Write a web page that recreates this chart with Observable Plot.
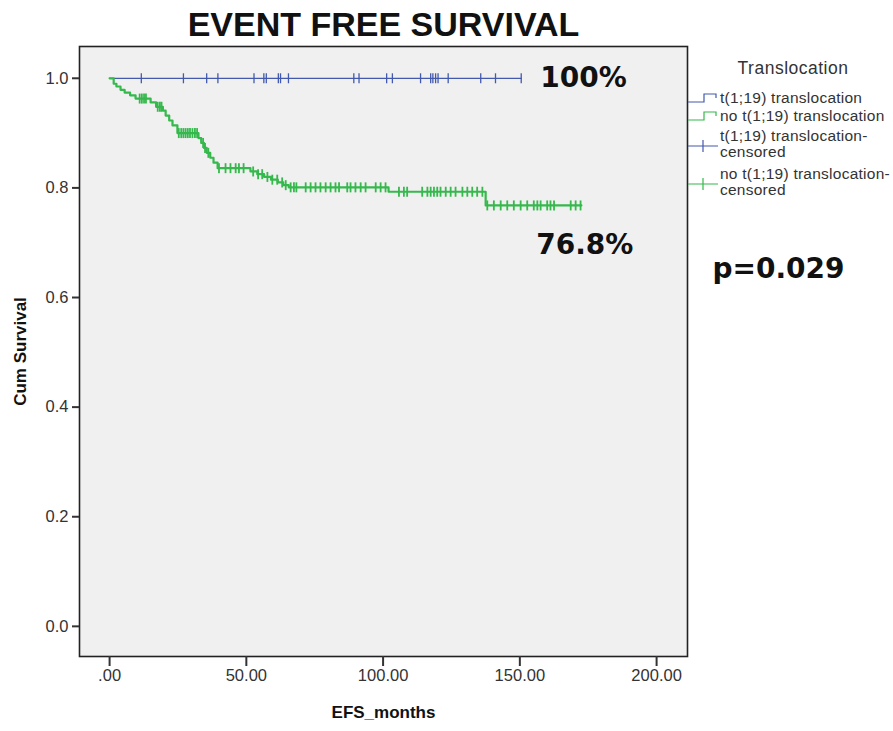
<!DOCTYPE html>
<html>
<head>
<meta charset="utf-8">
<script src="https://cdn.jsdelivr.net/npm/d3@7"></script>
<script src="https://cdn.jsdelivr.net/npm/@observablehq/plot@0.6"></script>
<style>
  html, body { margin: 0; padding: 0; background: white; }
  #chart { width: 893px; height: 731px; }
</style>
</head>
<body>
<div id="chart"></div>
<script>
// ---- data ----
const title = "EVENT FREE SURVIVAL";
const xLabel = "EFS_months";
const yLabel = "Cum Survival";
const xTicks = [0, 50, 100, 150, 200];
const yTicks = [0, 0.2, 0.4, 0.6, 0.8, 1.0];
const legendTitle = "Translocation";
const seriesNames = ["t(1;19) translocation", "no t(1;19) translocation"];

// t(1;19) translocation: no events
const blueTime = [0, 150.5];
const blueSurv = [1.0, 1.0];
const blueCensor = [11.6, 27.0, 35.5, 39.6, 52.8, 56.4, 57.3, 61.7, 62.5, 65.4, 89.3, 91.2, 101.3, 103.4,
  113.7, 117.4, 118.2, 119.2, 120.1, 123.8, 135.7, 141.1, 150.5];

// no t(1;19) translocation
const greenTime = [0, 1.5, 2.5, 4, 5.5, 7.5, 9.5, 15, 17, 19.5, 20.5, 21.8, 23, 24.8, 32.5, 33.5, 34.5,
  35.5, 36.8, 38, 39.5, 51.5, 54, 56.5, 59, 61.5, 63.5, 65.5, 102, 137.5, 172.5];
const greenSurv = [1.0, 0.99, 0.985, 0.979, 0.974, 0.969, 0.963, 0.956, 0.948, 0.941, 0.932, 0.923, 0.914,
  0.900, 0.891, 0.882, 0.873, 0.864, 0.855, 0.846, 0.836, 0.830, 0.825, 0.820, 0.815, 0.810, 0.805, 0.801,
  0.793, 0.768, 0.768];
const greenCensor = [11.0, 11.8, 12.6, 13.3, 17.6, 18.4, 19.0, 25.3, 26.2, 27.0, 27.8, 28.6, 29.4, 30.3,
  31.2, 32.0, 34.2, 34.9, 36.1, 40.0, 42.4, 44.2, 46.1, 47.3, 49.0, 52.5, 54.3, 55.8, 57.7, 59.5, 61.3,
  63.1, 64.4, 66.2, 67.4, 68.3, 71.7, 73.5, 75.3, 77.1, 79.0, 80.8, 82.6, 83.9, 86.9, 88.1, 89.9, 91.8,
  93.6, 97.3, 99.1, 100.9, 105.8, 107.6, 108.8, 114.3, 116.2, 117.4, 118.6, 119.8, 121.0, 122.9, 124.7,
  126.5, 129.0, 130.8, 132.6, 134.4, 136.3, 138.1, 140.5, 143.0, 145.4, 147.8, 150.3, 152.7, 155.1,
  156.4, 157.6, 160.0, 161.2, 162.5, 168.6, 170.4, 172.2];

const annotations = ["100%", "76.8%"];
const pValue = "p=0.029";

// ---- derived tables ----
const BLUE = "#4259ad", GREEN = "#35b84c";
const blueLine = blueTime.map((t, i) => ({t, s: blueSurv[i]}));
const greenLine = greenTime.map((t, i) => ({t, s: greenSurv[i]}));
function survAt(times, surv, t) {
  const i = d3.bisectRight(times, t) - 1;
  return surv[Math.max(0, i)];
}
const blueCens = blueCensor.map(t => ({t, s: survAt(blueTime, blueSurv, t)}));
const greenCens = greenCensor.map(t => ({t, s: survAt(greenTime, greenSurv, t)}));

const vtick = { draw(ctx, size) { ctx.moveTo(0, -5); ctx.lineTo(0, 5); } };

const plot = Plot.plot({
  width: 893,
  height: 731,
  marginLeft: 79,
  marginRight: 206,
  marginTop: 46,
  marginBottom: 75,
  style: { fontFamily: "'Liberation Sans', Arial, sans-serif", fontSize: "16px", color: "#333", background: "white" },
  x: { domain: [-11, 211.3] },
  y: { domain: [-0.055, 1.058] },
  marks: [
    Plot.frame({ fill: "#f0f0f0", stroke: null }),
    Plot.line(blueLine, { x: "t", y: "s", curve: "step-after", stroke: BLUE, strokeWidth: 1.3 }),
    Plot.line(greenLine, { x: "t", y: "s", curve: "step-after", stroke: GREEN, strokeWidth: 2.2 }),
    Plot.dot(blueCens, { x: "t", y: "s", symbol: vtick, stroke: BLUE, strokeWidth: 1.3, fill: "none" }),
    Plot.dot(greenCens, { x: "t", y: "s", symbol: vtick, stroke: GREEN, strokeWidth: 1.8, fill: "none" }),
    Plot.frame({ stroke: "#222", strokeWidth: 1.6 }),
    Plot.axisX({ ticks: xTicks, tickSize: 10, tickPadding: 3, strokeWidth: 2, stroke: "#333",
      tickFormat: d => d === 0 ? ".00" : d.toFixed(2), label: null, fontSize: 16.5 }),
    Plot.axisY({ ticks: yTicks, tickSize: 7, tickPadding: 4, strokeWidth: 2, stroke: "#333",
      tickFormat: d => d.toFixed(1), label: null, fontSize: 16.5 }),
    // annotations
    Plot.text([annotations[0]], { x: blueTime[blueTime.length - 1], y: blueSurv[blueSurv.length - 1], text: d => d,
      textAnchor: "start", dx: 19, fontFamily: "'DejaVu Sans', sans-serif", fontWeight: "bold", fontSize: 28, fill: "#111" }),
    Plot.text([annotations[1]], { x: greenTime[greenTime.length - 1], y: greenSurv[greenSurv.length - 1], text: d => d,
      textAnchor: "end", dx: 52, dy: 40, fontFamily: "'DejaVu Sans', sans-serif", fontWeight: "bold", fontSize: 28, fill: "#111" }),
    Plot.text([pValue], { frameAnchor: "top-right", text: d => d, textAnchor: "start", dx: 25, dy: 212,
      fontFamily: "'DejaVu Sans', sans-serif", fontWeight: "bold", fontSize: 28, fill: "#111" }),
    // titles
    Plot.text([title], { frameAnchor: "top", text: d => d, dy: -21, lineAnchor: "middle",
      fontWeight: "bold", fontSize: 34, fill: "#111" }),
    Plot.text([xLabel], { frameAnchor: "bottom", text: d => d, dy: 56, lineAnchor: "middle",
      fontWeight: "bold", fontSize: 17, fill: "#111" }),
    Plot.text([yLabel], { frameAnchor: "left", text: d => d, dx: -59, rotate: -90, lineAnchor: "middle",
      textAnchor: "middle", fontWeight: "bold", fontSize: 17, fill: "#111" })
  ]
});

document.getElementById("chart").appendChild(plot);

// ---- legend (outside the frame, right side) ----
const svg = d3.select(plot);
const lg = svg.append("g").attr("font-family", "'Liberation Sans', Arial, sans-serif")
  .attr("fill", "#333").attr("text-anchor", "start");
lg.append("text").attr("x", 793).attr("y", 68).attr("dy", "0.35em").attr("text-anchor", "middle")
  .attr("font-size", 17.5).attr("letter-spacing", 0.5).text(legendTitle);
const items = [
  { lines: [seriesNames[0]], color: BLUE, kind: "step", y: 98 },
  { lines: [seriesNames[1]], color: GREEN, kind: "step", y: 116 },
  { lines: [seriesNames[0] + "-", "censored"], color: BLUE, kind: "cens", y: 136 },
  { lines: [seriesNames[1] + "-", "censored"], color: GREEN, kind: "cens", y: 174 }
];
items.forEach(it => {
  const g = lg.append("g");
  if (it.kind === "step") {
    g.append("path").attr("d", `M688,${it.y + 4}H704V${it.y - 4}H716V${it.y}`)
      .attr("fill", "none").attr("stroke", it.color).attr("stroke-width", 1.2);
  } else {
    const gy = it.y + 10;
    g.append("path").attr("d", `M688,${gy}H718M703,${gy - 6}V${gy + 6}`)
      .attr("fill", "none").attr("stroke", it.color).attr("stroke-width", 1.2);
  }
  it.lines.forEach((ln, k) => {
    g.append("text").attr("x", 720).attr("y", it.y + k * 16).attr("dy", "0.35em")
      .attr("text-anchor", "start").attr("font-size", 15.5).attr("letter-spacing", 0.25).text(ln);
  });
});
</script>
</body>
</html>
